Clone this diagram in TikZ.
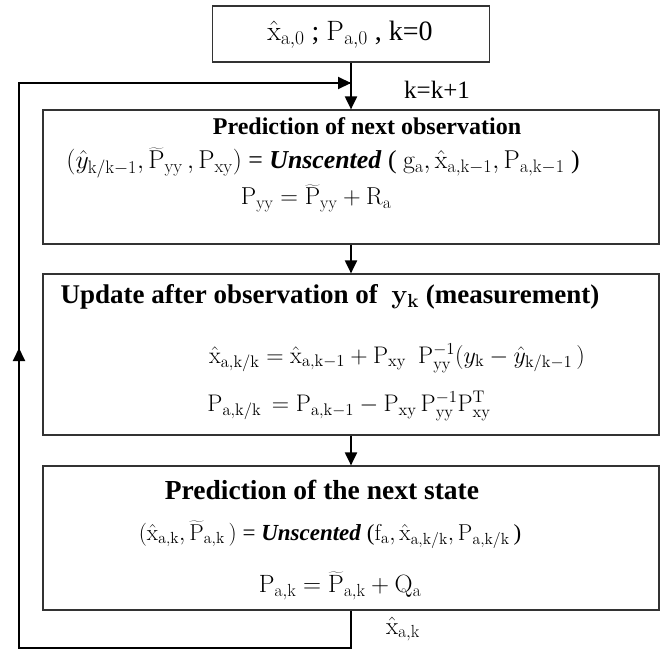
\RequirePackage{fix-cm}
\documentclass[tikz,border=0pt]{standalone}
\usepackage[no-math]{fontspec}
\setmainfont{Liberation Serif}
\usetikzlibrary{arrows.meta}
\newcommand{\rmx}[1]{\mathrm{#1}}
\newcommand{\fs}[1]{\fontsize{#1}{#1}\selectfont}
\begin{document}
\begin{tikzpicture}[x=1pt,y=-1pt,
  box/.style={draw=black!80,line width=1.2pt,rectangle,inner sep=0pt},
  txt/.style={inner sep=0pt},
  conn/.style={line width=2pt,black},
  tip/.style={-{Triangle[length=13pt,width=12pt]}}]
\useasboundingbox (0,0) rectangle (668,651);
% boxes
\node[box,minimum width=277pt,minimum height=56pt] (top) at (351,34) {};
\node[box,minimum width=616pt,minimum height=134pt] (b1) at (351,177) {};
\node[box,minimum width=616pt,minimum height=161pt] (b2) at (351,354.5) {};
\node[box,minimum width=616pt,minimum height=144pt] (b3) at (351,538) {};
% texts
\node[txt] (t0) at (350,35) {\fs{28}$\hat{\rmx{x}}_{\rmx{a,0}}$ ; $\rmx{P}_{\rmx{a,0}}$ , k=0};
\node[txt] (kk) at (437,90) {\fs{25}k=k+1};
\node[txt] (t1a) at (367,126) {\fs{24}\bfseries Prediction of next observation};
\node[txt] (t1b) at (323,163) {\fs{25.8}$(\hat{y}_{\rmx{k/k-1}}, \widetilde{\rmx{P}}_{\rmx{yy}}\,, \rmx{P}_{\rmx{xy}})$ = \textbf{\textit{Unscented}} ( $\rmx{g}_{\rmx{a}}, \hat{\rmx{x}}_{\rmx{a,k-1}}, \rmx{P}_{\rmx{a,k-1}}$ )};
\node[txt] (t1c) at (316,198) {\fs{24.5}$\rmx{P}_{\rmx{yy}} = \widetilde{\rmx{P}}_{\rmx{yy}} + \rmx{R}_{\rmx{a}}$};
\node[txt] (t2a) at (330,297) {\fs{27}\bfseries Update after observation of \ $\mathbf{y_k}$ (measurement)};
\node[txt] (t2b) at (397,358) {\fs{24}$\hat{\rmx{x}}_{\rmx{a,k/k}} = \hat{\rmx{x}}_{\rmx{a,k-1}} + \rmx{P}_{\rmx{xy}}\ \ \rmx{P}_{\rmx{yy}}^{-1}(y_{\rmx{k}} - \hat{y}_{\rmx{k/k-1}}\,)$};
\node[txt] (t2c) at (349,406) {\fs{24}$\rmx{P}_{\rmx{a,k/k}} \,= \rmx{P}_{\rmx{a,k-1}} - \rmx{P}_{\rmx{xy}}\, \rmx{P}_{\rmx{yy}}^{-1}\rmx{P}_{\rmx{xy}}^{\rmx{T}}$};
\node[txt] (t3a) at (322,490) {\fs{27.5}\bfseries Prediction of the next state};
\node[txt] (t3b) at (330,535) {\fs{23}$(\hat{\rmx{x}}_{\rmx{a,k}}, \widetilde{\rmx{P}}_{\rmx{a,k}}\,)$ = \textbf{\textit{Unscented}} ($\rmx{f}_{\rmx{a}}, \hat{\rmx{x}}_{\rmx{a,k/k}}, \rmx{P}_{\rmx{a,k/k}}\,$)};
\node[txt] (t3c) at (340,586) {\fs{25}$\rmx{P}_{\rmx{a,k}} = \widetilde{\rmx{P}}_{\rmx{a,k}} + \rmx{Q}_{\rmx{a}}$};
\node[txt] (xk) at (403,629) {\fs{25}$\hat{\rmx{x}}_{\rmx{a,k}}$};
% connectors
\coordinate (join) at (351,83);
\coordinate (fb1) at (351,648);
\coordinate (fb2) at (19,648);
\coordinate (fb3) at (19,83);
\coordinate (mid) at (19,348);
\draw[conn,tip] (top.south) -- (b1.north);
\draw[conn,tip] (b1.south) -- (b2.north);
\draw[conn,tip] (b2.south) -- (b3.north);
\draw[conn] (b3.south) -- (fb1) -- (fb2) -- (fb3) -- (join);
\draw[conn,tip] (fb2) -- (mid);
\draw[conn,tip] (fb3) -- (join);
\end{tikzpicture}
\end{document}
